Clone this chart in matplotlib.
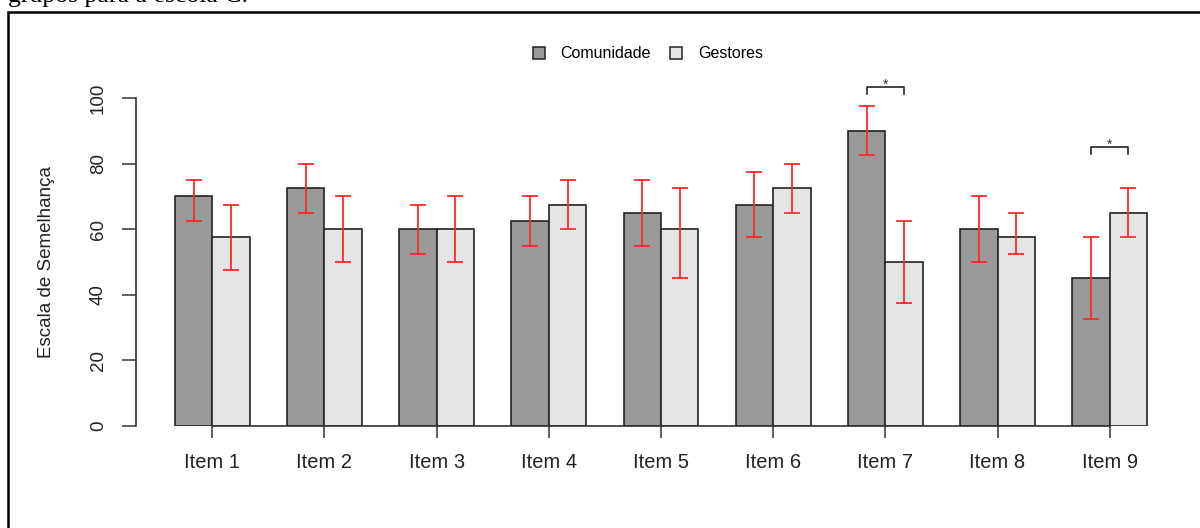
import numpy as np
import matplotlib.pyplot as plt
from matplotlib.patches import Rectangle, Patch

plt.rcParams['font.family'] = ['Liberation Sans', 'DejaVu Sans']

# values
items = ['Item 1', 'Item 2', 'Item 3', 'Item 4', 'Item 5',
         'Item 6', 'Item 7', 'Item 8', 'Item 9']
comunidade = [70, 72.5, 60, 62.5, 65, 67.5, 90, 60, 45]
gestores = [57.5, 60, 60, 67.5, 60, 72.5, 50, 57.5, 65]
com_low = [62.5, 65, 52.5, 55, 55, 57.5, 82.5, 50, 32.5]
com_high = [75, 80, 67.5, 70, 75, 77.5, 97.5, 70, 57.5]
ges_low = [47.5, 50, 50, 60, 45, 65, 37.5, 52.5, 57.5]
ges_high = [67.5, 70, 70, 75, 72.5, 80, 62.5, 65, 72.5]

# significant differences (item index, bracket height)
sig_items = [6, 8]
sig_heights = [103.4, 85]

fig = plt.figure(figsize=(12, 5.28), dpi=100)
ax = fig.add_axes([136 / 1200, 1 - 426 / 528, 1050 / 1200, 328 / 528])

n = len(items)
x_c = 1 + 3 * np.arange(n)
x_g = x_c + 1

ax.bar(x_c, comunidade, width=1, align='edge', color='#999999',
       edgecolor='#222222', linewidth=1.2, zorder=2)
ax.bar(x_g, gestores, width=1, align='edge', color='#e5e5e5',
       edgecolor='#222222', linewidth=1.2, zorder=2)

err_kw = dict(fmt='none', ecolor='#ff2a2a', elinewidth=1.3, capsize=5.8,
              capthick=1.3, zorder=3)
com = np.array(comunidade)
ges = np.array(gestores)
ax.errorbar(x_c + 0.5, com, yerr=[com - np.array(com_low), np.array(com_high) - com], **err_kw)
ax.errorbar(x_g + 0.5, ges, yerr=[ges - np.array(ges_low), np.array(ges_high) - ges], **err_kw)

for i, h in zip(sig_items, sig_heights):
    xa, xb = x_c[i] + 0.5, x_g[i] + 0.5
    ax.plot([xa, xa, xb, xb], [h - 2.2, h, h, h - 2.2], color='#222222',
            lw=1.2, clip_on=False, zorder=4)
    ax.text((xa + xb) / 2, h - 0.6, '*', ha='center', va='baseline',
            fontsize=10, color='#333333', clip_on=False)

ax.set_xlim(-0.04, 28.04)
ax.set_ylim(0, 100)
for s in ['top', 'right']:
    ax.spines[s].set_visible(False)
ax.spines['left'].set_bounds(0, 100)
ax.spines['bottom'].set_bounds(x_g[0], x_g[-1])
for s in ['left', 'bottom']:
    ax.spines[s].set_color('#333333')
    ax.spines[s].set_linewidth(1.2)

ax.set_xticks(x_g)
ax.set_xticklabels(items, fontsize=14.5, color='#222222')
ax.set_yticks([0, 20, 40, 60, 80, 100])
ax.set_yticklabels(['0', '20', '40', '60', '80', '100'], fontsize=13.5,
                   rotation=90, va='center', color='#222222')
ax.tick_params(axis='x', length=8.5, width=1.1, color='#333333', pad=11)
ax.tick_params(axis='y', length=10, width=1.1, color='#333333', pad=11)
ax.set_ylabel('Escala de Semelhança', fontsize=13.5, color='#222222')
ax.yaxis.label.set_va('center')
ax.yaxis.set_label_coords(-(136 - 47) / 1050, 0.5)

handles = [Patch(facecolor='#999999', edgecolor='#222222', linewidth=1.1),
           Patch(facecolor='#e5e5e5', edgecolor='#222222', linewidth=1.1)]
fig.legend(handles, ['Comunidade', 'Gestores'], loc='center',
           bbox_to_anchor=(648 / 1200, 1 - 54 / 528), ncol=2, frameon=False,
           fontsize=11.5, handlelength=0.75, handleheight=0.75,
           handletextpad=1.0, columnspacing=1.2)

# frame of the document figure and the caption line above it
fig.patches.append(Rectangle((8 / 1200, -0.1), 1.2, 1 - 12 / 528 + 0.1,
                             transform=fig.transFigure, fill=False,
                             edgecolor='black', linewidth=1.8))
fig.text(8 / 1200, 1 - 2 / 528, 'grupos para a escola C.', fontsize=18.5,
         family='Liberation Serif', va='baseline', ha='left')

fig.savefig('out.png', dpi=100)
